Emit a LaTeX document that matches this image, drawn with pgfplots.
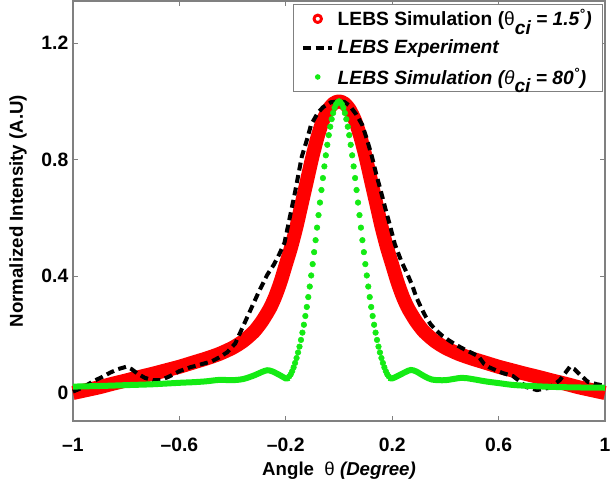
\documentclass[border=0pt]{standalone}
\usepackage{pgfplots}
\pgfplotsset{compat=1.18}
\usepackage{fontspec}
\setmainfont{Liberation Sans}
\usetikzlibrary{calc}
\definecolor{mygreen}{RGB}{20,235,20}

\pgfplotstableread{
x y
-1.00 0.000
-0.95 0.010
-0.90 0.020
-0.85 0.032
-0.80 0.043
-0.75 0.055
-0.70 0.066
-0.65 0.078
-0.60 0.090
-0.55 0.104
-0.50 0.118
-0.45 0.134
-0.40 0.155
-0.36 0.178
-0.32 0.210
-0.29 0.245
-0.26 0.290
-0.24 0.330
-0.22 0.380
-0.20 0.440
-0.18 0.500
-0.16 0.570
-0.14 0.650
-0.12 0.730
-0.10 0.810
-0.08 0.880
-0.06 0.935
-0.04 0.972
-0.02 0.993
0.00 1.000
0.02 0.993
0.04 0.972
0.06 0.935
0.08 0.880
0.10 0.810
0.12 0.730
0.14 0.650
0.16 0.570
0.18 0.500
0.20 0.440
0.22 0.380
0.24 0.330
0.26 0.290
0.29 0.245
0.32 0.210
0.36 0.178
0.40 0.155
0.45 0.134
0.50 0.118
0.55 0.104
0.60 0.090
0.65 0.078
0.70 0.066
0.75 0.055
0.80 0.043
0.85 0.032
0.90 0.020
0.95 0.010
1.00 0.000
}\simred

\pgfplotstableread{
x y
-1.00 0.005
-0.96 0.020
-0.925 0.040
-0.89 0.055
-0.86 0.070
-0.83 0.082
-0.80 0.090
-0.78 0.082
-0.76 0.068
-0.73 0.052
-0.70 0.044
-0.67 0.044
-0.635 0.058
-0.60 0.075
-0.56 0.088
-0.52 0.098
-0.48 0.108
-0.45 0.122
-0.42 0.140
-0.39 0.170
-0.37 0.210
-0.35 0.250
-0.33 0.290
-0.30 0.350
-0.27 0.405
-0.245 0.440
-0.225 0.475
-0.205 0.515
-0.19 0.580
-0.165 0.690
-0.14 0.810
-0.12 0.870
-0.105 0.920
-0.08 0.960
-0.06 0.980
-0.03 0.997
0.00 1.000
0.02 0.998
0.04 0.985
0.065 0.955
0.087 0.920
0.105 0.870
0.124 0.810
0.14 0.750
0.158 0.690
0.175 0.630
0.19 0.580
0.21 0.510
0.235 0.450
0.256 0.410
0.275 0.370
0.29 0.330
0.31 0.290
0.327 0.260
0.345 0.235
0.365 0.215
0.39 0.195
0.414 0.180
0.44 0.165
0.477 0.147
0.50 0.137
0.525 0.125
0.545 0.100
0.565 0.088
0.59 0.078
0.617 0.068
0.654 0.058
0.68 0.040
0.705 0.020
0.744 0.010
0.786 0.017
0.81 0.030
0.83 0.044
0.85 0.068
0.868 0.090
0.885 0.082
0.90 0.068
0.936 0.038
0.97 0.030
1.00 0.025
}\experiment

\pgfplotstableread{
x y
-1.00 0.022
-0.90 0.024
-0.80 0.027
-0.70 0.030
-0.60 0.035
-0.55 0.037
-0.50 0.040
-0.45 0.045
-0.40 0.044
-0.36 0.048
-0.32 0.060
-0.29 0.072
-0.27 0.078
-0.25 0.074
-0.22 0.060
-0.20 0.050
-0.187 0.052
}\greenleft

\pgfplotstableread{
x y
0.187 0.052
0.20 0.050
0.22 0.058
0.25 0.072
0.27 0.079
0.29 0.074
0.32 0.058
0.35 0.046
0.40 0.044
0.46 0.052
0.50 0.048
0.55 0.040
0.60 0.034
0.65 0.028
0.70 0.025
0.80 0.021
0.90 0.019
1.00 0.018
}\greenright

\pgfplotstableread{
x y
-0.187 0.057
-0.1815 0.064
-0.176 0.075
-0.1705 0.088
-0.165 0.103
-0.1595 0.120
-0.154 0.139
-0.1485 0.159
-0.143 0.182
-0.1375 0.207
-0.132 0.234
-0.1265 0.264
-0.121 0.295
-0.1155 0.329
-0.110 0.365
-0.1045 0.403
-0.099 0.442
-0.0935 0.483
-0.088 0.524
-0.0825 0.567
-0.077 0.610
-0.0715 0.653
-0.066 0.696
-0.0605 0.737
-0.055 0.777
-0.0495 0.815
-0.044 0.851
-0.0385 0.884
-0.033 0.913
-0.0275 0.939
-0.022 0.960
-0.0165 0.978
-0.011 0.990
-0.0055 0.997
0.000 1.000
0.0055 0.997
0.011 0.990
0.0165 0.978
0.022 0.960
0.0275 0.939
0.033 0.913
0.0385 0.884
0.044 0.851
0.0495 0.815
0.055 0.777
0.0605 0.737
0.066 0.696
0.0715 0.653
0.077 0.610
0.0825 0.567
0.088 0.524
0.0935 0.483
0.099 0.442
0.1045 0.403
0.110 0.365
0.1155 0.329
0.121 0.295
0.1265 0.264
0.132 0.234
0.1375 0.207
0.143 0.182
0.1485 0.159
0.154 0.139
0.1595 0.120
0.165 0.103
0.1705 0.088
0.176 0.075
0.1815 0.064
0.187 0.057
}\greencenter

\begin{document}
\begin{tikzpicture}
\begin{axis}[
  scale only axis, width=399pt, height=315pt,
  xmin=-1, xmax=1, ymin=-0.096, ymax=1.344,
  xtick={-1,-0.6,-0.2,0.2,0.6,1},
  xticklabels={\textendash1,\textendash0.6,\textendash0.2,0.2,0.6,1},
  ytick={0,0.4,0.8,1.2}, yticklabels={0,0.4,0.8,1.2},
  tick align=inside, major tick length=4pt,
  axis line style={draw=gray, line width=0.8pt},
  tick style={gray, line width=0.6pt},
  label style={font=\fontsize{14}{17}\selectfont\bfseries},
  ticklabel style={font=\fontsize{14.5}{17}\selectfont\bfseries},
  xticklabel style={yshift=-9pt},
  xlabel={Angle\ \ {\mdseries θ} \textit{(Degree)}},
  ylabel={Normalized Intensity (A.U)},
  xlabel style={at={(axis description cs:0.5,-0.119)}, anchor=center},
  ylabel style={at={(axis description cs:-0.1034,0.5)}, anchor=center},
  clip=false,
  legend cell align=left,
  legend style={at={(rel axis cs:0.996,0.993)}, anchor=north east,
    draw=gray, line width=0.6pt,
    font=\fontsize{14.4}{17}\selectfont\bfseries,
    inner xsep=6pt, inner ysep=2pt, row sep=5pt},
]
\addplot[red, line width=10.5pt, line join=round, smooth, tension=0.4,
  legend image code/.code={\path[draw=none,fill=none] (0,0) -- (24pt,0);\draw[red, fill=none, line width=2.2pt] (11pt,0) circle (2.8pt);}]
  table {\simred};
\addlegendentry{LEBS Simulation ({\mdseries θ}\smash{\raisebox{-0.85ex}{\itshape ci}}\textit{ = 1.5\textsuperscript{°})}}
\addplot[black, line width=3pt, dash pattern=on 6pt off 3.5pt,
  legend image code/.code={\path[draw=none,fill=none] (0,0) -- (24pt,0);\draw[black, line width=3pt, dash pattern=on 6pt off 3.5pt] (0pt,0) -- (22pt,0);}]
  table {\experiment};
\addlegendentry{\textit{LEBS Experiment}}
\addplot[mygreen, line width=4.5pt, smooth, forget plot] table {\greenleft};
\addplot[mygreen, line width=4.5pt, smooth, forget plot] table {\greenright};
\addplot[mygreen, only marks, mark=*, mark size=2.1pt,
  legend image code/.code={\path[draw=none,fill=none] (0,0) -- (24pt,0);\fill[mygreen, draw=none] (11pt,0) circle (2.1pt);}]
  table {\greencenter};
\addlegendentry{\textit{LEBS Simulation ({\mdseries θ}\smash{\raisebox{-0.85ex}{ci}} = 80\textsuperscript{°})}}
\end{axis}
\pgfresetboundingbox
\path ($(current axis.south west)+(-54.75pt,-44.25pt)$) rectangle ($(current axis.north east)+(3.75pt,0.75pt)$);
\end{tikzpicture}
\end{document}
